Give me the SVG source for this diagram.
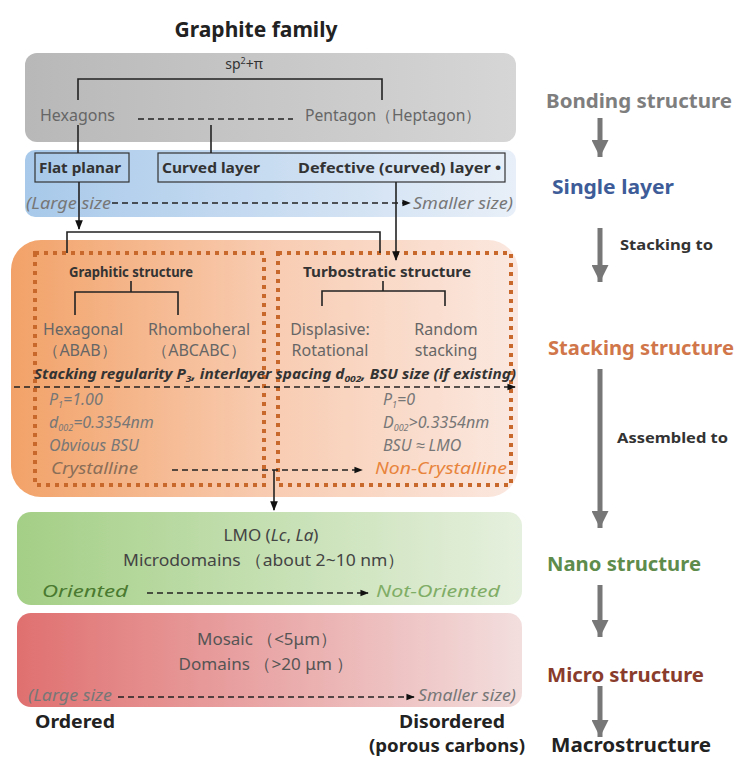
<svg xmlns="http://www.w3.org/2000/svg" width="738" height="758" viewBox="0 0 738 758">
<defs>
<linearGradient id="gGray" x1="0" y1="0" x2="1" y2="0"><stop offset="0" stop-color="#b8b8b8"/><stop offset="1" stop-color="#d6d6d6"/></linearGradient>
<linearGradient id="gBlue" x1="0" y1="0" x2="1" y2="0"><stop offset="0" stop-color="#a8c9ea"/><stop offset="1" stop-color="#e8eff8"/></linearGradient>
<linearGradient id="gOrange" x1="0" y1="0" x2="1" y2="0"><stop offset="0" stop-color="#f2a268"/><stop offset="0.5" stop-color="#f8cbb0"/><stop offset="1" stop-color="#fbe8e0"/></linearGradient>
<linearGradient id="gGreen" x1="0" y1="0" x2="1" y2="0"><stop offset="0" stop-color="#a4cf86"/><stop offset="1" stop-color="#e6f0de"/></linearGradient>
<linearGradient id="gRed" x1="0" y1="0" x2="1" y2="0"><stop offset="0" stop-color="#e07070"/><stop offset="1" stop-color="#f3dede"/></linearGradient>
<marker id="ah" viewBox="0 0 10 10" refX="9" refY="5" markerWidth="6" markerHeight="6" orient="auto"><path d="M0,1 L10,5 L0,9 z" fill="#111"/></marker>
<marker id="gh" viewBox="0 0 10 10" refX="10" refY="5" markerWidth="3.4" markerHeight="3.4" orient="auto"><path d="M0,0 L10,5 L0,10 z" fill="#777"/></marker>
</defs>
<style>
.t{font-family:"Noto Sans","Liberation Sans",sans-serif}
.g{fill:#666;font-size:16px}
.it{font-style:italic}
.b{font-weight:bold}
.ln{stroke:#222;stroke-width:1.6;fill:none}
.da{stroke:#222;stroke-width:1.4;stroke-dasharray:6 4;fill:none}
.dot{fill:none;stroke:#c8682a;stroke-width:4;stroke-dasharray:4 5}
.box{fill:none;stroke:#333;stroke-width:1.2}
.ga{stroke:#777;stroke-width:5;fill:none}
.rl{font-size:19px;font-weight:bold}
.sm{font-size:17px;font-style:italic;fill:#777}
</style>
<text class="t b" x="256" y="37" text-anchor="middle" font-size="21" fill="#222">Graphite family</text>

<g id="bonding">
<rect x="25" y="53" width="491" height="89" rx="12" fill="url(#gGray)"/>
<text class="t" x="244" y="69" text-anchor="middle" font-size="14" fill="#333">sp<tspan font-size="9" dy="-5">2</tspan><tspan dy="5">+π</tspan></text>
<text class="t g" x="40" y="121" textLength="75" lengthAdjust="spacingAndGlyphs">Hexagons</text>
<text class="t g" x="305" y="121" textLength="176" lengthAdjust="spacingAndGlyphs">Pentagon（Heptagon）</text>
</g>

<g id="single">
<rect x="25" y="150" width="491" height="67" rx="10" fill="url(#gBlue)"/>
<rect class="box" x="35" y="153" width="94" height="29"/>
<text class="t b" x="39" y="173" font-size="15" fill="#333" textLength="82" lengthAdjust="spacingAndGlyphs">Flat planar</text>
<rect class="box" x="158" y="153" width="347" height="29"/>
<text class="t b" x="162" y="173" font-size="15" fill="#333" textLength="98" lengthAdjust="spacingAndGlyphs">Curved layer</text>
<text class="t b" x="298" y="173" font-size="15" fill="#333" textLength="203" lengthAdjust="spacingAndGlyphs">Defective (curved) layer •</text>
<text class="t sm" x="26" y="209" textLength="85" lengthAdjust="spacingAndGlyphs">(Large size</text>
<text class="t sm" x="413" y="209" textLength="100" lengthAdjust="spacingAndGlyphs">Smaller size)</text>
</g>

<g id="stacking">
<rect x="11" y="240" width="507" height="257" rx="30" fill="url(#gOrange)"/>
<rect class="dot" x="35" y="253" width="229" height="232"/>
<rect class="dot" x="278" y="253" width="233" height="232"/>
<text class="t b" x="131" y="277" text-anchor="middle" font-size="14" fill="#333" textLength="124" lengthAdjust="spacingAndGlyphs">Graphitic structure</text>
<text class="t b" x="387" y="277" text-anchor="middle" font-size="15" fill="#333" textLength="168" lengthAdjust="spacingAndGlyphs">Turbostratic structure</text>
<text class="t g" x="83" y="335" text-anchor="middle" textLength="80" lengthAdjust="spacingAndGlyphs">Hexagonal</text>
<text class="t g" x="80" y="356" text-anchor="middle">（ABAB）</text>
<text class="t g" x="199" y="335" text-anchor="middle" textLength="102" lengthAdjust="spacingAndGlyphs">Rhomboheral</text>
<text class="t g" x="199" y="356" text-anchor="middle">（ABCABC）</text>
<text class="t g" x="330" y="335" text-anchor="middle">Displasive:</text>
<text class="t g" x="330" y="356" text-anchor="middle">Rotational</text>
<text class="t g" x="446" y="335" text-anchor="middle">Random</text>
<text class="t g" x="446" y="356" text-anchor="middle">stacking</text>
<text class="t b it" x="34" y="379" font-size="13.5" fill="#333" textLength="482" lengthAdjust="spacingAndGlyphs">Stacking regularity P<tspan font-size="9" dy="3">3</tspan><tspan dy="-3">, interlayer spacing d</tspan><tspan font-size="9" dy="3">002</tspan><tspan dy="-3">, BSU size (if existing)</tspan></text>
<g class="t it" font-size="16" fill="#777">
<text x="49" y="405">P<tspan font-size="9" dy="3">1</tspan><tspan dy="-3">=1.00</tspan></text>
<text x="49" y="428">d<tspan font-size="9" dy="3">002</tspan><tspan dy="-3">=0.3354nm</tspan></text>
<text x="49" y="451">Obvious BSU</text>
<text x="383" y="405">P<tspan font-size="9" dy="3">1</tspan><tspan dy="-3">=0</tspan></text>
<text x="383" y="428">D<tspan font-size="9" dy="3">002</tspan><tspan dy="-3">&gt;0.3354nm</tspan></text>
<text x="383" y="451">BSU ≈ LMO</text>
</g>
<text class="t it" x="51" y="474" font-size="17" fill="#8a6e58" textLength="87" lengthAdjust="spacingAndGlyphs">Crystalline</text>
<text class="t it" x="375" y="474" font-size="17" fill="#e8843c" textLength="132" lengthAdjust="spacingAndGlyphs">Non-Crystalline</text>
</g>

<g id="nano">
<rect x="17" y="512" width="505" height="93" rx="14" fill="url(#gGreen)"/>
<text class="t" x="271" y="541" text-anchor="middle" font-size="17" fill="#444">LMO (<tspan font-style="italic">Lc</tspan>, <tspan font-style="italic">La</tspan>)</text>
<text class="t" x="264" y="566" text-anchor="middle" font-size="17" fill="#444" textLength="282" lengthAdjust="spacingAndGlyphs">Microdomains （about 2~10 nm）</text>
<text class="t it" x="42" y="597" font-size="16" fill="#4a7a30" textLength="86" lengthAdjust="spacingAndGlyphs">Oriented</text>
<text class="t it" x="376" y="597" font-size="16" fill="#80ad66" textLength="124" lengthAdjust="spacingAndGlyphs">Not-Oriented</text>
</g>

<g id="micro">
<rect x="17" y="613" width="505" height="94" rx="14" fill="url(#gRed)"/>
<text class="t" x="267" y="645" text-anchor="middle" font-size="17" fill="#555" textLength="140" lengthAdjust="spacingAndGlyphs">Mosaic （&lt;5μm）</text>
<text class="t" x="266" y="670" text-anchor="middle" font-size="17" fill="#555" textLength="175" lengthAdjust="spacingAndGlyphs">Domains （&gt;20 μm ）</text>
<text class="t sm" x="28" y="701" textLength="84" lengthAdjust="spacingAndGlyphs">(Large size</text>
<text class="t sm" x="418" y="701" textLength="98" lengthAdjust="spacingAndGlyphs">Smaller size)</text>
</g>

<g id="order">
<text class="t b" x="35" y="728" font-size="18" fill="#222" textLength="80" lengthAdjust="spacingAndGlyphs">Ordered</text>
<text class="t b" x="452" y="728" text-anchor="middle" font-size="18" fill="#222" textLength="106" lengthAdjust="spacingAndGlyphs">Disordered</text>
<text class="t b" x="447" y="752" text-anchor="middle" font-size="18" fill="#222" textLength="156" lengthAdjust="spacingAndGlyphs">(porous carbons)</text>
</g>

<g id="levels" class="t">
<text class="rl" x="546" y="108" fill="#7e7e7e" textLength="186" lengthAdjust="spacingAndGlyphs">Bonding structure</text>
<text class="rl" x="552" y="194" fill="#3d5c98" textLength="122" lengthAdjust="spacingAndGlyphs">Single layer</text>
<text x="620" y="250" font-size="15" font-weight="bold" fill="#333" textLength="93" lengthAdjust="spacingAndGlyphs">Stacking to</text>
<text class="rl" x="548" y="355" fill="#d0764a" textLength="186" lengthAdjust="spacingAndGlyphs">Stacking structure</text>
<text x="617" y="443" font-size="15" font-weight="bold" fill="#333" textLength="111" lengthAdjust="spacingAndGlyphs">Assembled to</text>
<text class="rl" x="547" y="571" fill="#5e8c4c" textLength="154" lengthAdjust="spacingAndGlyphs">Nano structure</text>
<text class="rl" x="547" y="682" fill="#8a3c2c" textLength="157" lengthAdjust="spacingAndGlyphs">Micro structure</text>
<text class="rl" x="551" y="752" fill="#222" textLength="160" lengthAdjust="spacingAndGlyphs">Macrostructure</text>
</g>

<g id="connectors">
<path class="ln" d="M78,100 V79 H382 V100"/>
<path class="da" d="M138,119 H293"/>
<path class="ln" d="M78,125 V153"/>
<path class="ln" d="M211,125 V153"/>
<path class="da" d="M112,203 H410" marker-end="url(#ah)"/>
<path class="ln" d="M79,182 V229" marker-end="url(#ah)"/>
<path class="ln" d="M67,253 V232 H380 V253"/>
<path class="ln" d="M396,182 V260" marker-end="url(#ah)"/>
<path class="ln" d="M131,281 V292 M75,315 V292 H178 V315"/>
<path class="ln" d="M383,281 V291 M322,306 V291 H445 V306"/>
<path class="da" d="M14,387 H515" marker-end="url(#ah)"/>
<path class="da" d="M172,470 H362" marker-end="url(#ah)"/>
<path class="ln" d="M274,470 V510" marker-end="url(#ah)"/>
<path class="da" d="M147,593 H368" marker-end="url(#ah)"/>
<path class="da" d="M118,697 H414" marker-end="url(#ah)"/>
<path class="ga" d="M600,118 V157" marker-end="url(#gh)"/>
<path class="ga" d="M600,228 V282" marker-end="url(#gh)"/>
<path class="ga" d="M600,369 V528" marker-end="url(#gh)"/>
<path class="ga" d="M600,585 V637" marker-end="url(#gh)"/>
<path class="ga" d="M600,686 V737" marker-end="url(#gh)"/>
</g>
</svg>
